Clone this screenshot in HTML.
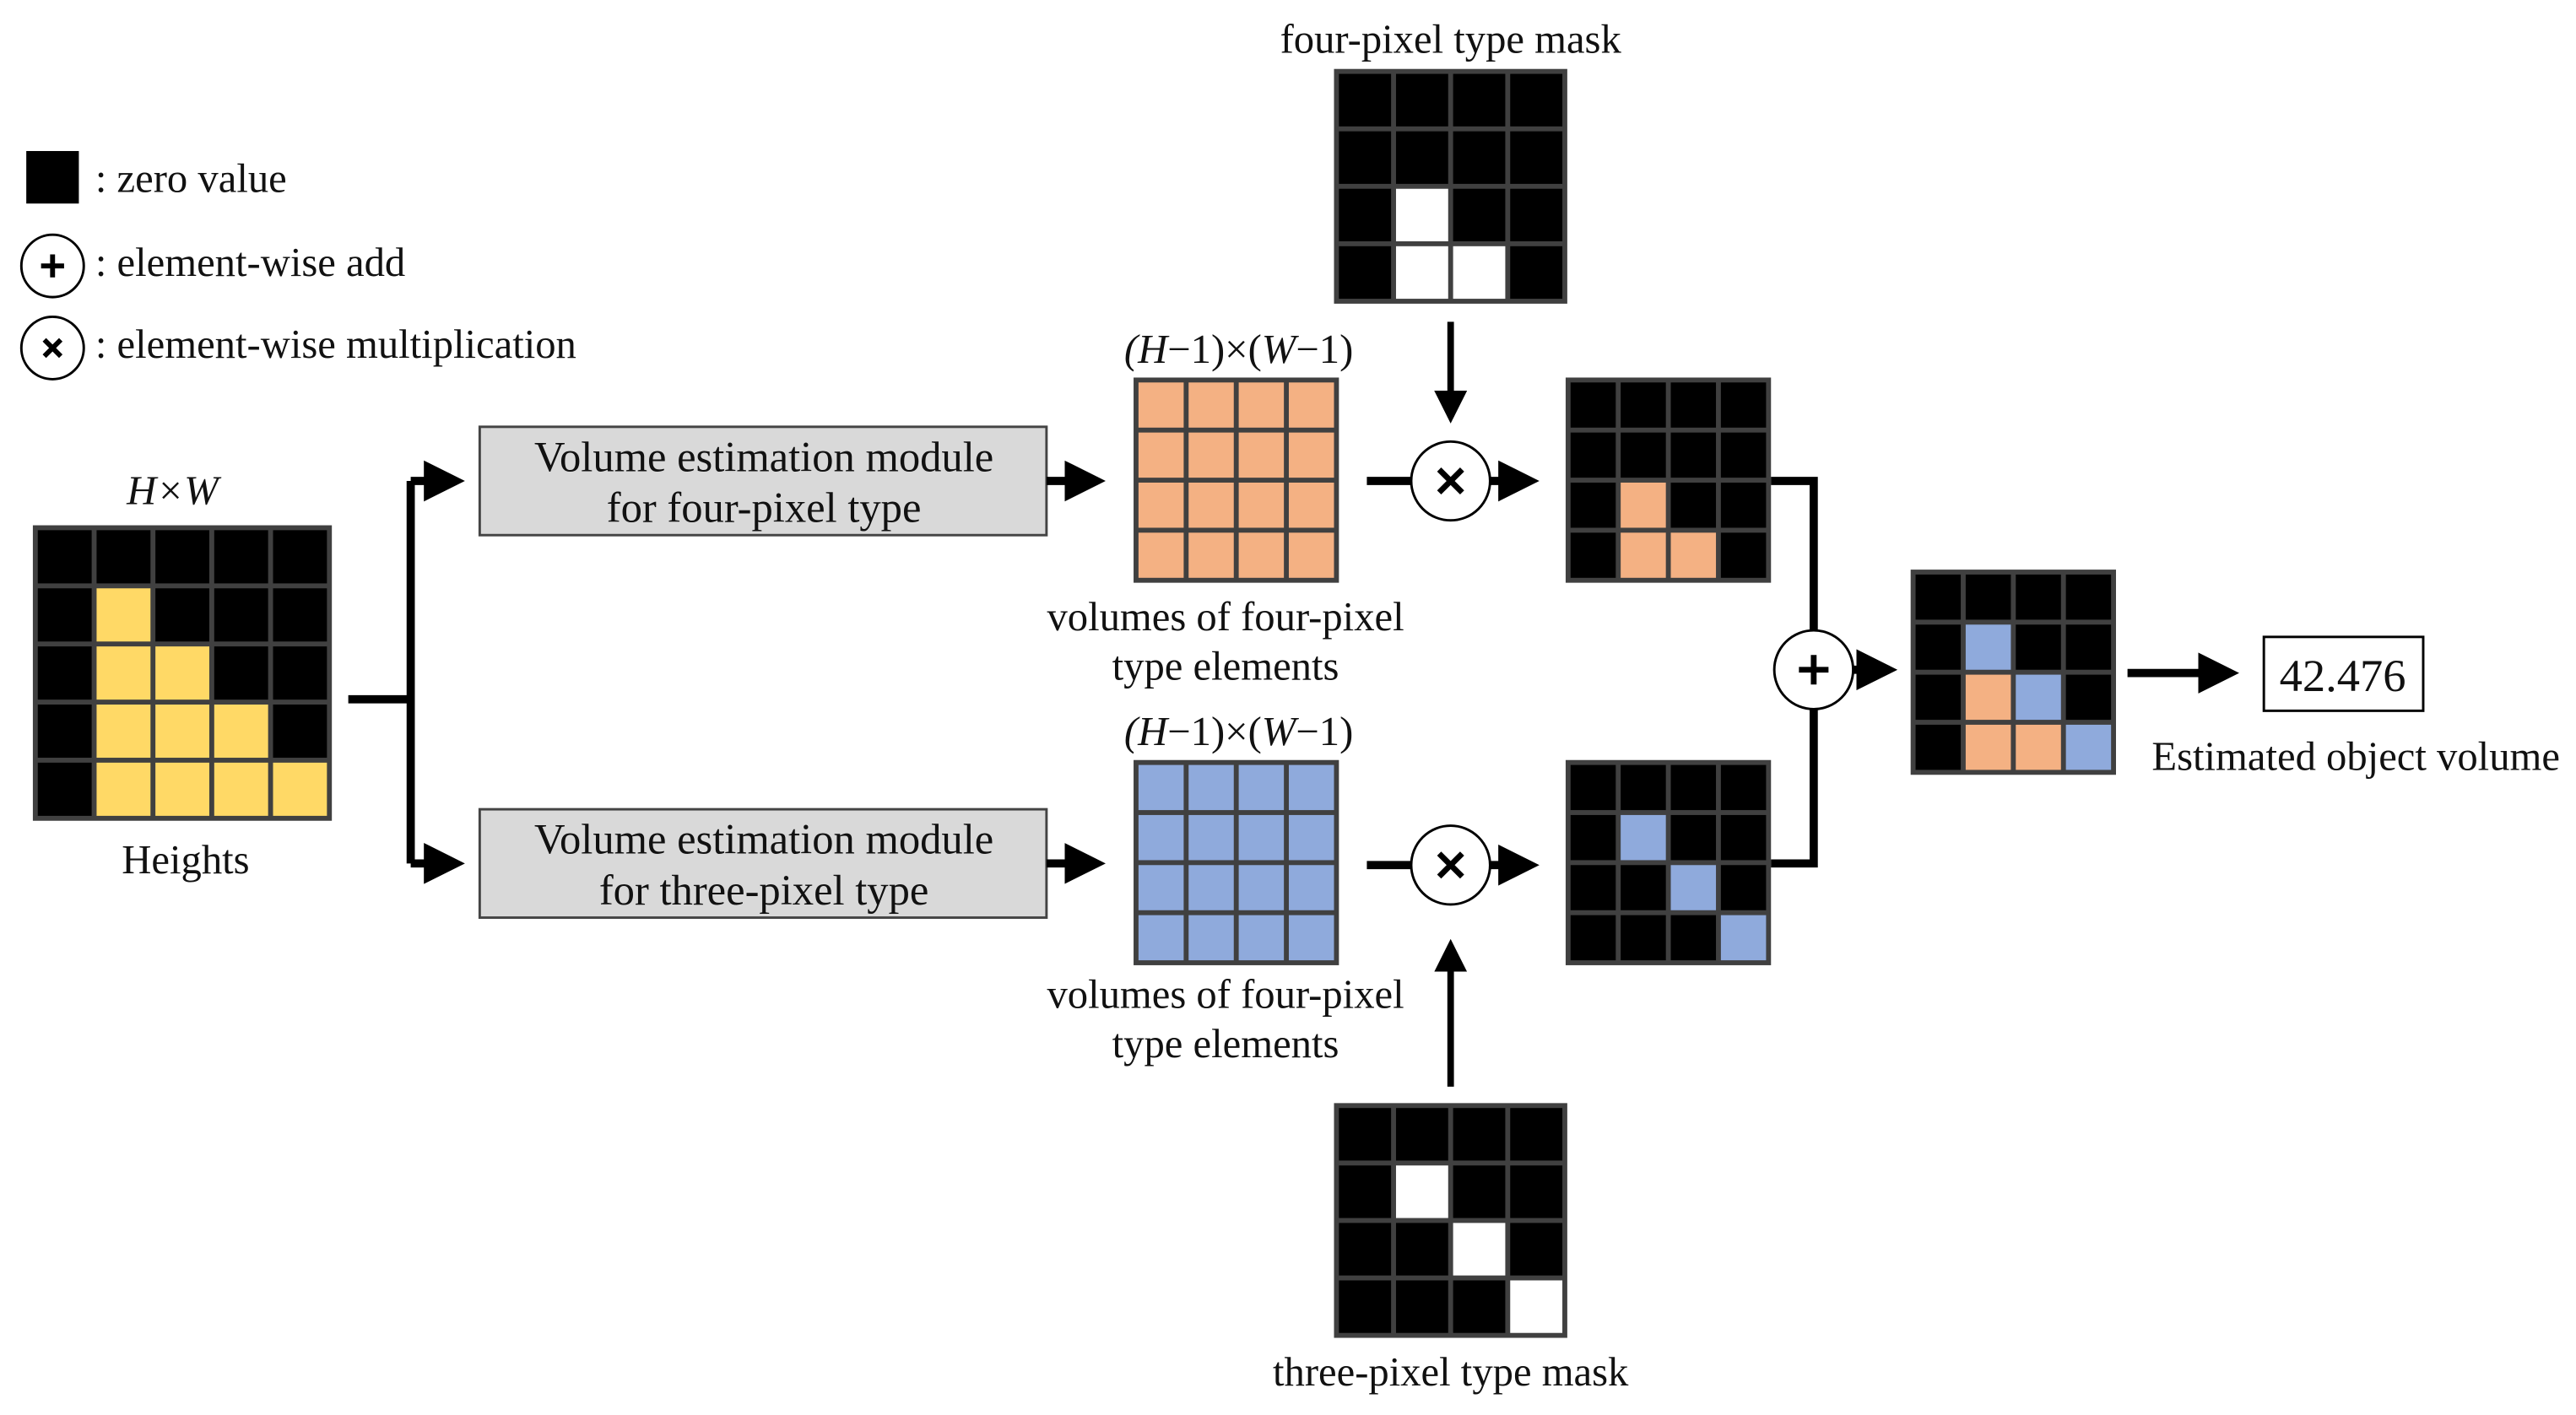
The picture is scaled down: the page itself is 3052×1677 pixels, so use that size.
<!DOCTYPE html>
<html><head><meta charset="utf-8"><style>
html,body{margin:0;padding:0;background:#fff;}
svg{display:block;}
text{font-family:"Liberation Serif",serif;fill:#111;}
</style></head><body>
<svg id="s" width="3052" height="1677" viewBox="0 0 1568 862" preserveAspectRatio="none" xmlns="http://www.w3.org/2000/svg">
<defs>
<marker id="ah" markerWidth="5" markerHeight="5" refX="4" refY="2.5" orient="auto" markerUnits="strokeWidth"><path d="M0,0 L5,2.5 L0,5 z" fill="#000"/></marker>
</defs>
<g font-size="25">
<rect x="16" y="92" width="32" height="32" fill="#000"/>
<text x="58" y="117">: zero value</text>
<circle cx="32" cy="162" r="19" fill="#fff" stroke="#000" stroke-width="1.5"/>
<path d="M25 162 H39 M32 155 V169" stroke="#000" stroke-width="3"/>
<text x="58" y="168">: element-wise add</text>
<circle cx="32" cy="212" r="19" fill="#fff" stroke="#000" stroke-width="1.5"/>
<path d="M27 207 L37 217 M37 207 L27 217" stroke="#000" stroke-width="3"/>
<text x="58" y="218">: element-wise multiplication</text>
</g>
<g id="grids"></g>
<g font-size="25" text-anchor="middle">
<text x="105" y="307" font-style="italic">H×W</text>
<text x="113" y="532">Heights</text>
<text x="754" y="221"><tspan font-style="italic">(H</tspan>−1)×(<tspan font-style="italic">W</tspan>−1)</text>
<text x="754" y="454"><tspan font-style="italic">(H</tspan>−1)×(<tspan font-style="italic">W</tspan>−1)</text>
<text x="746" y="384">volumes of four-pixel</text>
<text x="746" y="414">type elements</text>
<text x="746" y="614">volumes of four-pixel</text>
<text x="746" y="644">type elements</text>
<text x="883" y="32">four-pixel type mask</text>
<text x="883" y="844">three-pixel type mask</text>
<text x="1434" y="469">Estimated object volume</text>
</g>
<rect x="292" y="260" width="345" height="66" fill="#d9d9d9" stroke="#444" stroke-width="1.5"/>
<rect x="292" y="493" width="345" height="66" fill="#d9d9d9" stroke="#444" stroke-width="1.5"/>
<g font-size="26" text-anchor="middle">
<text x="465" y="287">Volume estimation module</text>
<text x="465" y="318">for four-pixel type</text>
<text x="465" y="520">Volume estimation module</text>
<text x="465" y="551">for three-pixel type</text>
</g>
<g stroke="#000" stroke-width="5" fill="none">
<path d="M212 426 H250"/>
<path d="M250 293 V526"/>
<path d="M250 293 H278" marker-end="url(#ah)"/>
<path d="M250 526 H278" marker-end="url(#ah)"/>
<path d="M637 293 H668" marker-end="url(#ah)"/>
<path d="M637 526 H668" marker-end="url(#ah)"/>
<path d="M832 293 H859"/>
<path d="M832 527 H859"/>
<path d="M907 293 H932" marker-end="url(#ah)"/>
<path d="M907 527 H932" marker-end="url(#ah)"/>
<path d="M883 196 V254" stroke-width="4" marker-end="url(#ah)"/>
<path d="M883 662 V576" stroke-width="4" marker-end="url(#ah)"/>
<path d="M1078 293 H1104 V384"/>
<path d="M1078 526 H1104 V432"/>
<path d="M1128 408 H1150" marker-end="url(#ah)"/>
<path d="M1295 410 H1358" marker-end="url(#ah)"/>
</g>
<g stroke="#000" stroke-width="1.5" fill="#fff">
<circle cx="883" cy="293" r="24"/>
<circle cx="883" cy="527" r="24"/>
<circle cx="1104" cy="408" r="24"/>
</g>
<g stroke="#000" stroke-width="3.5">
<path d="M876 286 L890 300 M890 286 L876 300"/>
<path d="M876 520 L890 534 M890 520 L876 534"/>
<path d="M1095 408 H1113 M1104 399 V417"/>
</g>
<rect x="1378" y="388" width="97" height="45" fill="#fff" stroke="#000" stroke-width="1.5"/>
<text x="1426" y="421" font-size="28" text-anchor="middle">42.476</text>
</svg>
<script>
var g=document.getElementById('grids'),NS='http://www.w3.org/2000/svg';
function r(x,y,w,h,f){var e=document.createElementNS(NS,'rect');e.setAttribute('x',x);e.setAttribute('y',y);e.setAttribute('width',w);e.setAttribute('height',h);e.setAttribute('fill',f);g.appendChild(e);}
function grid(x,y,w,h,n,colors){
 r(x,y,w,h,'#404040');var b=3,cw=(w-b)/n,ch=(h-b)/n;
 for(var i=0;i<n;i++)for(var j=0;j<n;j++){var c=(colors[i+','+j])||'#000';r(x+b+j*cw,y+b+i*ch,cw-b,ch-b,c);}
}
var Y='#ffd966',O='#f4b183',B='#8faadc',W='#fff';
grid(20,320,182,180,5,{'1,1':Y,'2,1':Y,'2,2':Y,'3,1':Y,'3,2':Y,'3,3':Y,'4,1':Y,'4,2':Y,'4,3':Y,'4,4':Y});
var all={};for(var i=0;i<4;i++)for(var j=0;j<4;j++)all[i+','+j]=O;grid(690,230,125,125,4,all);
var allb={};for(var i=0;i<4;i++)for(var j=0;j<4;j++)allb[i+','+j]=B;grid(690,463,125,125,4,allb);
grid(812,42,142,143,4,{'2,1':W,'3,1':W,'3,2':W});
grid(812,672,142,143,4,{'1,1':W,'2,2':W,'3,3':W});
grid(953,230,125,125,4,{'2,1':O,'3,1':O,'3,2':O});
grid(953,463,125,125,4,{'1,1':B,'2,2':B,'3,3':B});
grid(1163,347,125,125,4,{'1,1':B,'2,2':B,'3,3':B,'2,1':O,'3,1':O,'3,2':O});
</script>
</body></html>
